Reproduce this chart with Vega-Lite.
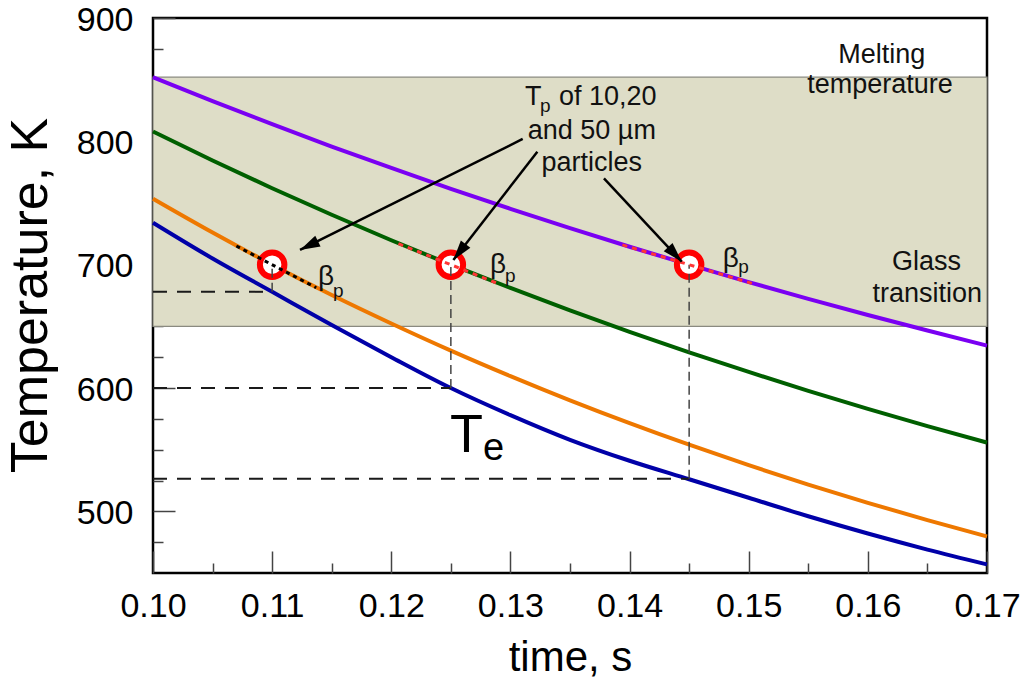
{
  "$schema": "https://vega.github.io/schema/vega-lite/v6.json",
  "width": 834,
  "height": 555,
  "autosize": {"type": "none"},
  "padding": {"left": 153, "top": 18, "right": 42, "bottom": 112},
  "background": "white",
  "config": {
    "view": {"stroke": "black", "strokeWidth": 2.5},
    "font": "Liberation Sans",
    "axis": {"grid": false, "domain": false, "zindex": 1, "labelFont": "Liberation Sans", "titleFont": "Liberation Sans", "titleFontWeight": "normal", "labelColor": "black", "titleColor": "black", "tickColor": "#444", "tickWidth": 1.5}
  },
  "resolve": {"axis": {"x": "independent", "y": "independent"}},
  "datasets": {
    "band": [{"t1": 0.1, "t2": 0.17, "T1": 650, "T2": 852}],
    "curves": [
      {"series": "Tp 50 µm", "t": 0.100, "T": 852.0},
      {"series": "Tp 50 µm", "t": 0.105, "T": 832.6},
      {"series": "Tp 50 µm", "t": 0.110, "T": 813.9},
      {"series": "Tp 50 µm", "t": 0.115, "T": 795.8},
      {"series": "Tp 50 µm", "t": 0.120, "T": 778.4},
      {"series": "Tp 50 µm", "t": 0.125, "T": 761.5},
      {"series": "Tp 50 µm", "t": 0.130, "T": 745.3},
      {"series": "Tp 50 µm", "t": 0.135, "T": 729.6},
      {"series": "Tp 50 µm", "t": 0.140, "T": 714.5},
      {"series": "Tp 50 µm", "t": 0.145, "T": 700.0},
      {"series": "Tp 50 µm", "t": 0.150, "T": 685.9},
      {"series": "Tp 50 µm", "t": 0.155, "T": 672.3},
      {"series": "Tp 50 µm", "t": 0.160, "T": 659.2},
      {"series": "Tp 50 µm", "t": 0.165, "T": 646.6},
      {"series": "Tp 50 µm", "t": 0.170, "T": 634.4},
      {"series": "Tp 20 µm", "t": 0.100, "T": 808.0},
      {"series": "Tp 20 µm", "t": 0.105, "T": 784.5},
      {"series": "Tp 20 µm", "t": 0.110, "T": 762.0},
      {"series": "Tp 20 µm", "t": 0.115, "T": 740.5},
      {"series": "Tp 20 µm", "t": 0.120, "T": 719.8},
      {"series": "Tp 20 µm", "t": 0.125, "T": 700.0},
      {"series": "Tp 20 µm", "t": 0.130, "T": 681.1},
      {"series": "Tp 20 µm", "t": 0.135, "T": 663.0},
      {"series": "Tp 20 µm", "t": 0.140, "T": 645.6},
      {"series": "Tp 20 µm", "t": 0.145, "T": 628.9},
      {"series": "Tp 20 µm", "t": 0.150, "T": 613.0},
      {"series": "Tp 20 µm", "t": 0.155, "T": 597.7},
      {"series": "Tp 20 µm", "t": 0.160, "T": 583.1},
      {"series": "Tp 20 µm", "t": 0.165, "T": 569.1},
      {"series": "Tp 20 µm", "t": 0.170, "T": 555.7},
      {"series": "Tp 10 µm", "t": 0.100, "T": 753.4},
      {"series": "Tp 10 µm", "t": 0.105, "T": 726.0},
      {"series": "Tp 10 µm", "t": 0.110, "T": 700.0},
      {"series": "Tp 10 µm", "t": 0.115, "T": 675.4},
      {"series": "Tp 10 µm", "t": 0.120, "T": 652.3},
      {"series": "Tp 10 µm", "t": 0.125, "T": 630.3},
      {"series": "Tp 10 µm", "t": 0.130, "T": 609.6},
      {"series": "Tp 10 µm", "t": 0.135, "T": 590.0},
      {"series": "Tp 10 µm", "t": 0.140, "T": 571.5},
      {"series": "Tp 10 µm", "t": 0.145, "T": 554.0},
      {"series": "Tp 10 µm", "t": 0.150, "T": 537.4},
      {"series": "Tp 10 µm", "t": 0.155, "T": 521.7},
      {"series": "Tp 10 µm", "t": 0.160, "T": 506.9},
      {"series": "Tp 10 µm", "t": 0.165, "T": 492.9},
      {"series": "Tp 10 µm", "t": 0.170, "T": 479.6},
      {"series": "Te", "t": 0.100, "T": 734},
      {"series": "Te", "t": 0.105, "T": 705},
      {"series": "Te", "t": 0.110, "T": 678},
      {"series": "Te", "t": 0.115, "T": 651},
      {"series": "Te", "t": 0.120, "T": 625},
      {"series": "Te", "t": 0.125, "T": 600},
      {"series": "Te", "t": 0.130, "T": 578},
      {"series": "Te", "t": 0.135, "T": 558},
      {"series": "Te", "t": 0.140, "T": 541},
      {"series": "Te", "t": 0.145, "T": 526},
      {"series": "Te", "t": 0.150, "T": 511},
      {"series": "Te", "t": 0.155, "T": 496},
      {"series": "Te", "t": 0.160, "T": 482},
      {"series": "Te", "t": 0.165, "T": 469},
      {"series": "Te", "t": 0.170, "T": 457}
    ],
    "tangents": [
      {"series": "Tp 10 µm", "t": 0.107, "T": 715.1},
      {"series": "Tp 10 µm", "t": 0.1137, "T": 681.3},
      {"series": "Tp 20 µm", "t": 0.1206, "T": 717.0},
      {"series": "Tp 20 µm", "t": 0.1291, "T": 684.1},
      {"series": "Tp 50 µm", "t": 0.1394, "T": 716.0},
      {"series": "Tp 50 µm", "t": 0.1505, "T": 684.2}
    ],
    "circles": [
      {"t": 0.11, "T": 700},
      {"t": 0.125, "T": 700},
      {"t": 0.145, "T": 700}
    ],
    "hdash": [
      {"t1": 0.10, "t2": 0.11, "T1": 678, "T2": 678},
      {"t1": 0.10, "t2": 0.125, "T1": 600, "T2": 600},
      {"t1": 0.10, "t2": 0.145, "T1": 526.5, "T2": 526.5}
    ],
    "vdash": [
      {"t1": 0.11, "t2": 0.11, "T1": 678, "T2": 700},
      {"t1": 0.125, "t2": 0.125, "T1": 600, "T2": 700},
      {"t1": 0.145, "t2": 0.145, "T1": 526.5, "T2": 700}
    ],
    "arrows": [
      {"id": "a1", "t1": 0.13103, "T1": 801.9, "t2": 0.11234, "T2": 711.9},
      {"id": "a2", "t1": 0.13226, "T1": 791.6, "t2": 0.12521, "T2": 703.8},
      {"id": "a3", "t1": 0.13785, "T1": 770.0, "t2": 0.14438, "T2": 702.4}
    ],
    "texts": [
      {"kind": "c", "t": 0.16116, "T": 863.8, "text": "Melting"},
      {"kind": "c", "t": 0.16102, "T": 839.4, "text": "temperature"},
      {"kind": "c", "t": 0.16493, "T": 695.7, "text": "Glass"},
      {"kind": "c", "t": 0.16498, "T": 670.0, "text": "transition"},
      {"kind": "l", "t": 0.13122, "T": 829.5, "text": "T"},
      {"kind": "ls", "t": 0.13248, "T": 823.8, "text": "p"},
      {"kind": "l", "t": 0.13408, "T": 829.5, "text": "of 10,20"},
      {"kind": "c", "t": 0.13683, "T": 801.6, "text": "and 50 µm"},
      {"kind": "c", "t": 0.13683, "T": 775.9, "text": "particles"},
      {"kind": "b", "t": 0.11385, "T": 683.5, "text": "β"},
      {"kind": "ls", "t": 0.11511, "T": 674.0, "text": "p"},
      {"kind": "b", "t": 0.12829, "T": 693.0, "text": "β"},
      {"kind": "ls", "t": 0.12954, "T": 686.2, "text": "p"},
      {"kind": "b", "t": 0.14782, "T": 698.3, "text": "β"},
      {"kind": "ls", "t": 0.14913, "T": 693.0, "text": "p"},
      {"kind": "te", "t": 0.12493, "T": 548.1, "text": "T"},
      {"kind": "tes", "t": 0.12770, "T": 541.6, "text": "e"}
    ]
  },
  "layer": [
    {
      "data": {"name": "band"},
      "mark": {"type": "rect", "fill": "#DEDDC7", "stroke": "#8A8A80", "strokeWidth": 1.2},
      "encoding": {
        "x": {"field": "t1", "type": "quantitative", "scale": {"domain": [0.1, 0.17], "nice": false, "zero": false},
          "axis": {"orient": "bottom", "title": "time, s", "values": [0.1, 0.11, 0.12, 0.13, 0.14, 0.15, 0.16, 0.17],
            "format": ".2f", "tickSize": -22,
            "labelFontSize": 34, "labelPadding": 38, "labelFlush": false, "labelOverlap": false,
            "titleFontSize": 42, "titleX": 417, "titleY": 97, "titleBaseline": "alphabetic", "titleAlign": "center"}},
        "x2": {"field": "t2"},
        "y": {"field": "T1", "type": "quantitative", "scale": {"domain": [450, 900], "nice": false, "zero": false},
          "axis": {"orient": "left", "title": "Temperature, K", "values": [500, 600, 700, 800, 900],
            "format": "d", "tickSize": -22,
            "labelFontSize": 34, "labelPadding": 42, "labelOffset": 2, "labelFlush": false, "labelOverlap": false,
            "titleFontSize": 52, "titleAngle": 270, "titleX": -107, "titleY": 277, "titleBaseline": "alphabetic", "titleAlign": "center"}},
        "y2": {"field": "T2"}
      }
    },
    {
      "data": {"name": "curves"},
      "mark": {"type": "line", "strokeWidth": 4, "interpolate": "monotone"},
      "encoding": {
        "x": {"field": "t", "type": "quantitative",
          "axis": {"orient": "bottom", "title": null, "labels": false, "tickSize": -10,
            "values": [0.105, 0.115, 0.125, 0.135, 0.145, 0.155, 0.165]}},
        "y": {"field": "T", "type": "quantitative",
          "axis": {"orient": "left", "title": null, "labels": false, "tickSize": -10,
            "values": [475, 525, 550, 575, 625, 650, 675, 725, 750, 775, 825, 850, 875]}},
        "color": {"field": "series", "type": "nominal", "legend": null,
          "scale": {"domain": ["Tp 50 µm", "Tp 20 µm", "Tp 10 µm", "Te"], "range": ["#7A00F2", "#005F00", "#EE7800", "#0000A8"]}}
      }
    },
    {
      "data": {"name": "circles"},
      "mark": {"type": "point", "shape": "circle", "size": 600, "filled": false, "fill": "white", "fillOpacity": 1, "stroke": "#FF0000", "strokeWidth": 6, "opacity": 1},
      "encoding": {
        "x": {"field": "t", "type": "quantitative", "axis": null},
        "y": {"field": "T", "type": "quantitative", "axis": null}
      }
    },
    {
      "data": {"name": "hdash"},
      "mark": {"type": "rule", "color": "#1a1a1a", "strokeWidth": 2, "strokeDash": [14, 10]},
      "encoding": {
        "x": {"field": "t1", "type": "quantitative", "axis": null},
        "x2": {"field": "t2"},
        "y": {"field": "T1", "type": "quantitative", "axis": null},
        "y2": {"field": "T2"}
      }
    },
    {
      "data": {"name": "vdash"},
      "mark": {"type": "rule", "color": "#444", "strokeWidth": 1.5, "strokeDash": [9, 5]},
      "encoding": {
        "x": {"field": "t1", "type": "quantitative", "axis": null},
        "x2": {"field": "t2"},
        "y": {"field": "T1", "type": "quantitative", "axis": null},
        "y2": {"field": "T2"}
      }
    },
    {
      "data": {"name": "tangents"},
      "transform": [{"filter": "datum.series == 'Tp 10 µm'"}],
      "mark": {"type": "line", "color": "black", "strokeWidth": 3, "strokeDash": [4, 4]},
      "encoding": {
        "x": {"field": "t", "type": "quantitative", "axis": null},
        "y": {"field": "T", "type": "quantitative", "axis": null},
        "detail": {"field": "series"}
      }
    },
    {
      "data": {"name": "tangents"},
      "transform": [{"filter": "datum.series != 'Tp 10 µm'"}],
      "mark": {"type": "line", "color": "#FF3535", "strokeWidth": 3, "strokeDash": [5, 5]},
      "encoding": {
        "x": {"field": "t", "type": "quantitative", "axis": null},
        "y": {"field": "T", "type": "quantitative", "axis": null},
        "detail": {"field": "series"}
      }
    },
    {
      "data": {"name": "arrows"},
      "mark": {"type": "rule", "color": "black", "strokeWidth": 2.5},
      "encoding": {
        "x": {"field": "t1", "type": "quantitative", "axis": null},
        "x2": {"field": "t2"},
        "y": {"field": "T1", "type": "quantitative", "axis": null},
        "y2": {"field": "T2"}
      }
    },
    {
      "data": {"name": "arrows"},
      "transform": [{"filter": "datum.id == 'a1'"}],
      "mark": {"type": "point", "shape": "M0,0L0.6,2L-0.6,2Z", "size": 400, "filled": true, "color": "black", "opacity": 1, "angle": 243.5},
      "encoding": {
        "x": {"field": "t2", "type": "quantitative", "axis": null},
        "y": {"field": "T2", "type": "quantitative", "axis": null}
      }
    },
    {
      "data": {"name": "arrows"},
      "transform": [{"filter": "datum.id == 'a2'"}],
      "mark": {"type": "point", "shape": "M0,0L0.6,2L-0.6,2Z", "size": 400, "filled": true, "color": "black", "opacity": 1, "angle": 217.8},
      "encoding": {
        "x": {"field": "t2", "type": "quantitative", "axis": null},
        "y": {"field": "T2", "type": "quantitative", "axis": null}
      }
    },
    {
      "data": {"name": "arrows"},
      "transform": [{"filter": "datum.id == 'a3'"}],
      "mark": {"type": "point", "shape": "M0,0L0.6,2L-0.6,2Z", "size": 400, "filled": true, "color": "black", "opacity": 1, "angle": 137.1},
      "encoding": {
        "x": {"field": "t2", "type": "quantitative", "axis": null},
        "y": {"field": "T2", "type": "quantitative", "axis": null}
      }
    },
    {
      "data": {"name": "texts"},
      "transform": [{"filter": "datum.kind == 'c'"}],
      "mark": {"type": "text", "fontSize": 27, "align": "center", "baseline": "alphabetic", "color": "#111", "font": "Liberation Sans"},
      "encoding": {"x": {"field": "t", "type": "quantitative", "axis": null}, "y": {"field": "T", "type": "quantitative", "axis": null}, "text": {"field": "text"}}
    },
    {
      "data": {"name": "texts"},
      "transform": [{"filter": "datum.kind == 'l'"}],
      "mark": {"type": "text", "fontSize": 27, "align": "left", "baseline": "alphabetic", "color": "#111", "font": "Liberation Sans"},
      "encoding": {"x": {"field": "t", "type": "quantitative", "axis": null}, "y": {"field": "T", "type": "quantitative", "axis": null}, "text": {"field": "text"}}
    },
    {
      "data": {"name": "texts"},
      "transform": [{"filter": "datum.kind == 'ls'"}],
      "mark": {"type": "text", "fontSize": 19, "align": "left", "baseline": "alphabetic", "color": "#111", "font": "Liberation Sans"},
      "encoding": {"x": {"field": "t", "type": "quantitative", "axis": null}, "y": {"field": "T", "type": "quantitative", "axis": null}, "text": {"field": "text"}}
    },
    {
      "data": {"name": "texts"},
      "transform": [{"filter": "datum.kind == 'b'"}],
      "mark": {"type": "text", "fontSize": 28, "align": "left", "baseline": "alphabetic", "color": "#111", "font": "Liberation Sans"},
      "encoding": {"x": {"field": "t", "type": "quantitative", "axis": null}, "y": {"field": "T", "type": "quantitative", "axis": null}, "text": {"field": "text"}}
    },
    {
      "data": {"name": "texts"},
      "transform": [{"filter": "datum.kind == 'te'"}],
      "mark": {"type": "text", "fontSize": 54, "align": "left", "baseline": "alphabetic", "color": "black", "font": "Liberation Sans"},
      "encoding": {"x": {"field": "t", "type": "quantitative", "axis": null}, "y": {"field": "T", "type": "quantitative", "axis": null}, "text": {"field": "text"}}
    },
    {
      "data": {"name": "texts"},
      "transform": [{"filter": "datum.kind == 'tes'"}],
      "mark": {"type": "text", "fontSize": 38, "align": "left", "baseline": "alphabetic", "color": "black", "font": "Liberation Sans"},
      "encoding": {"x": {"field": "t", "type": "quantitative", "axis": null}, "y": {"field": "T", "type": "quantitative", "axis": null}, "text": {"field": "text"}}
    }
  ]
}
